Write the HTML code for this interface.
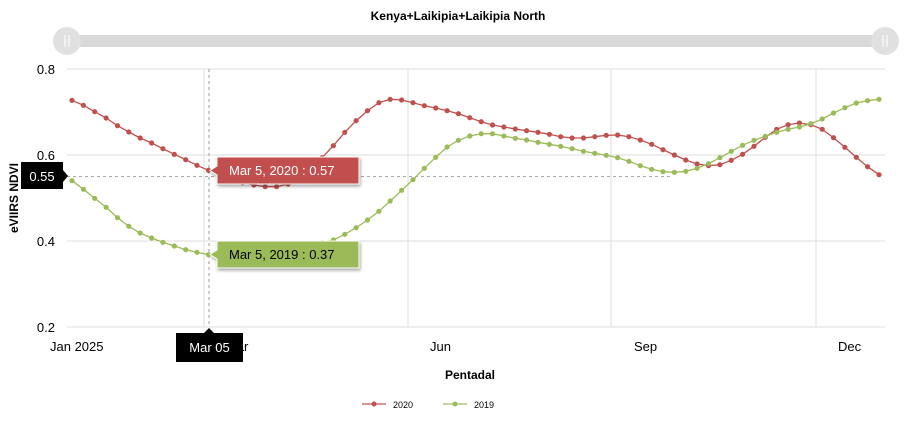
<!DOCTYPE html>
<html><head><meta charset="utf-8"><style>
body{margin:0;background:#fff;width:916px;height:419px;overflow:hidden;font-family:"Liberation Sans",sans-serif}
</style></head><body>
<svg id="s" width="916" height="419" xmlns="http://www.w3.org/2000/svg" font-family="Liberation Sans, sans-serif">
<defs><filter id="sh" x="-10%" y="-50%" width="120%" height="300%"><feDropShadow dx="1" dy="2" stdDeviation="1.5" flood-color="#000" flood-opacity="0.35"/></filter></defs>
<text x="458" y="20" text-anchor="middle" font-size="12" font-weight="bold">Kenya+Laikipia+Laikipia North</text>
<rect x="67" y="35" width="818" height="12" fill="#d9d9d9"/>
<circle cx="67" cy="41" r="14" fill="#e0e0e0"/><circle cx="885" cy="41" r="14" fill="#e0e0e0"/>
<g stroke="#fff" stroke-width="1"><line x1="65" y1="35" x2="65" y2="47"/><line x1="69" y1="35" x2="69" y2="47"/><line x1="883" y1="35" x2="883" y2="47"/><line x1="887" y1="35" x2="887" y2="47"/></g>
<g stroke="#ddd" stroke-width="1">
<line x1="67" y1="69" x2="885" y2="69"/><line x1="67" y1="155" x2="885" y2="155"/><line x1="67" y1="241" x2="885" y2="241"/><line x1="67" y1="327" x2="885" y2="327"/>
<line x1="204" y1="69" x2="204" y2="327"/><line x1="408" y1="69" x2="408" y2="327"/><line x1="611" y1="69" x2="611" y2="327"/><line x1="816" y1="69" x2="816" y2="327"/>
</g>
<g font-size="13" fill="#000">
<text x="55" y="74" text-anchor="end">0.8</text><text x="55" y="160" text-anchor="end">0.6</text><text x="55" y="246" text-anchor="end">0.4</text><text x="55" y="332" text-anchor="end">0.2</text>
<text x="50" y="351">Jan 2025</text><text x="226" y="351">Mar</text><text x="430" y="351">Jun</text><text x="634" y="351">Sep</text><text x="838" y="351">Dec</text>
</g>
<text transform="translate(18,198) rotate(-90)" text-anchor="middle" font-size="12" font-weight="bold">eVIIRS NDVI</text>
<text x="470" y="379" text-anchor="middle" font-size="12" font-weight="bold">Pentadal</text>
<line x1="362" y1="404" x2="386" y2="404" stroke="#c0504d" stroke-opacity="0.6" stroke-width="2"/><circle cx="374" cy="404" r="2.5" fill="#c0504d"/>
<text x="393" y="408" font-size="9">2020</text>
<line x1="443" y1="404" x2="467" y2="404" stroke="#9bbb59" stroke-opacity="0.6" stroke-width="2"/><circle cx="455" cy="404" r="2.5" fill="#9bbb59"/>
<text x="474" y="408" font-size="9">2019</text>
<line x1="67" y1="176.5" x2="672" y2="176.5" stroke="#aaa" stroke-dasharray="3,3"/>
<line x1="209" y1="69" x2="209" y2="327" stroke="#999" stroke-dasharray="3,3"/>
<g id="series"></g>
<line x1="672" y1="176.5" x2="884" y2="176.5" stroke="#16a085" stroke-width="3" filter="url(#sh)"/>
<g filter="url(#sh)">
<path d="M217 157 H359 V184 H217 V175 L210 170.5 L217 166 Z" fill="#c0504d" stroke="#fff" stroke-width="1"/>
<path d="M217 241 H359 V268 H217 V259 L210 254.5 L217 250 Z" fill="#9bbb59" stroke="#fff" stroke-width="1"/>
</g>
<text x="229" y="175" font-size="13" fill="#fff">Mar 5, 2020 : 0.57</text>
<text x="229" y="259" font-size="13" fill="#000">Mar 5, 2019 : 0.37</text>
<path d="M21 162 H63 V170 L68 176 L63 182 V189 H21 Z" fill="#000"/>
<text x="42" y="181" text-anchor="middle" font-size="13" fill="#fff">0.55</text>
<path d="M176 333 H204 L209 328 L214 333 H243 V362 H176 Z" fill="#000"/>
<text x="209.5" y="352" text-anchor="middle" font-size="13" fill="#fff">Mar 05</text>
</svg>
<script>
var r=[151,166,185,204,227,246,264,279,296,313,329,346,361,372,386,398,405,410,410,402,385,360,323,287,247,212,182,158,148,150,158,167,174,182,191,203,215,225,231,237,242,247,253,260,264,264,260,256,255,260,270,283,299,315,330,342,347,344,331,313,289,262,238,224,219,224,238,263,292,322,350,374];
var g=[392,418,445,472,503,529,549,564,577,588,599,607,614,620,626,630,633,633,628,620,605,590,578,570,553,533,510,484,453,421,389,355,322,291,271,258,251,251,258,265,270,277,283,289,296,304,310,316,323,334,347,358,365,367,364,355,341,323,304,286,271,259,247,238,231,221,207,189,173,159,152,148];
function ser(a,c){var p=[],d='';for(var i=0;i<a.length;i++){var x=(72+i*11.366).toFixed(1),y=(50+a[i]/3).toFixed(1);p.push(x+','+y);d+='<circle cx="'+x+'" cy="'+y+'" r="2.6" fill="'+c+'"/>';}
return '<polyline points="'+p.join(' ')+'" fill="none" stroke="'+c+'" stroke-width="1.3"/>'+d;}
document.getElementById('series').innerHTML=ser(r,'#c0504d')+ser(g,'#9bbb59');
</script>
</body></html>
